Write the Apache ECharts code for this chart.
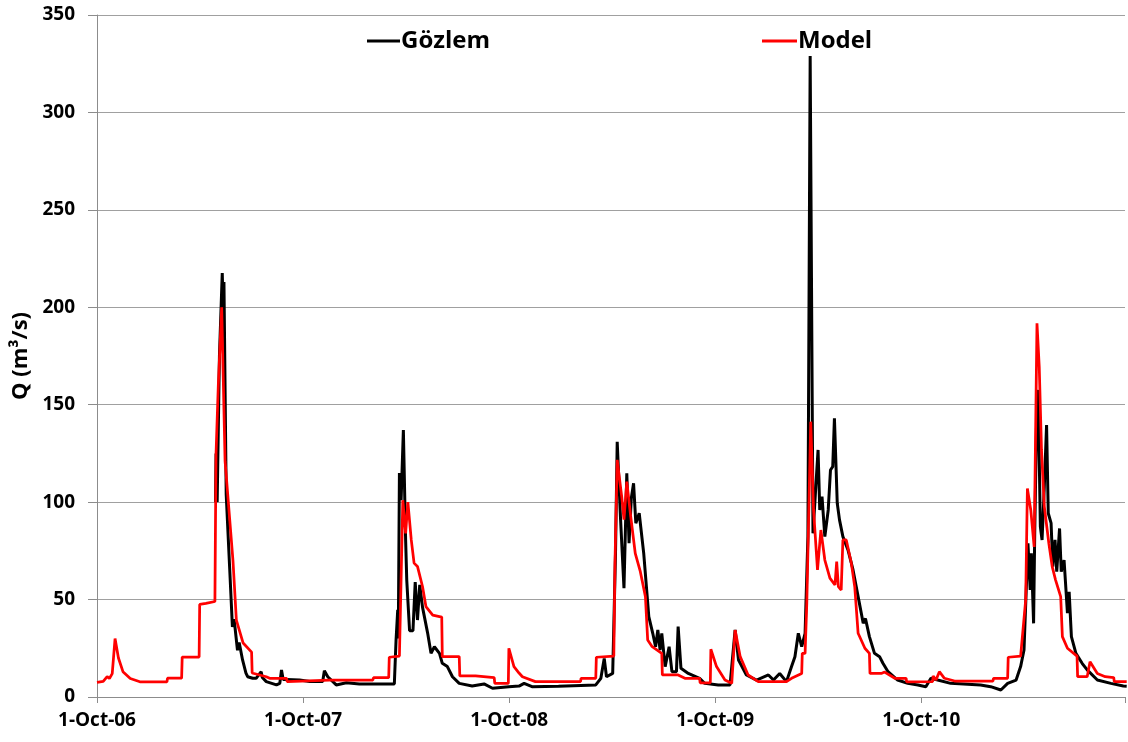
<!DOCTYPE html>
<html>
<head>
<meta charset="utf-8">
<script src="https://cdn.jsdelivr.net/npm/echarts@6/dist/echarts.min.js"></script>
<style>
html,body{margin:0;padding:0;background:#fff;}
#chart{width:1128px;height:742px;}
</style>
</head>
<body>
<div id="chart"></div>
<script>
// X tick labels (one per water year start)
const xTickLabels = ['1-Oct-06', '1-Oct-07', '1-Oct-08', '1-Oct-09', '1-Oct-10'];
const seriesNames = ['Gözlem', 'Model'];

// Observed discharge (Gözlem), m3/s
const obsDates = [
'2007-04-29','2007-04-30','2007-05-02','2007-05-06','2007-05-11','2007-05-13','2007-05-14','2007-05-18','2007-05-24','2007-05-29',
'2007-06-01','2007-06-07','2007-06-10','2007-06-16','2007-06-22','2007-06-25','2007-07-04','2007-07-10','2007-07-19','2007-07-21',
'2007-07-28','2007-08-15','2007-08-21','2007-08-24','2007-08-27','2007-09-02','2007-09-25','2007-10-13','2007-11-05','2007-11-08',
'2007-11-14','2007-11-29','2007-12-17','2008-01-09','2008-02-13','2008-03-11','2008-03-14','2008-03-17','2008-03-18','2008-03-20',
'2008-03-23','2008-03-27','2008-03-31','2008-04-02','2008-04-07','2008-04-13','2008-04-17','2008-04-21','2008-04-25','2008-04-30',
'2008-05-09','2008-05-15','2008-05-21','2008-05-30','2008-06-04','2008-06-13','2008-06-22','2008-07-04','2008-07-27','2008-08-17',
'2008-09-01','2008-09-30','2008-10-18','2008-10-27','2008-11-10','2008-12-27','2009-03-03','2009-03-12','2009-03-18','2009-03-22',
'2009-04-02','2009-04-07','2009-04-10','2009-04-16','2009-04-22','2009-04-27','2009-05-01','2009-05-05','2009-05-09','2009-05-13',
'2009-05-19','2009-05-27','2009-06-05','2009-06-12','2009-06-17','2009-06-21','2009-06-25','2009-06-28','2009-07-04','2009-07-11',
'2009-07-16','2009-07-24','2009-07-27','2009-08-01','2009-08-14','2009-09-03','2009-09-12','2009-10-06','2009-10-27','2009-11-05',
'2009-11-11','2009-11-25','2009-12-13','2010-01-03','2010-01-12','2010-01-23','2010-02-04','2010-02-13','2010-02-19','2010-02-25',
'2010-03-03','2010-03-09','2010-03-14','2010-03-18','2010-03-23','2010-03-28','2010-04-01','2010-04-04','2010-04-08','2010-04-13',
'2010-04-19','2010-04-23','2010-04-27','2010-04-30','2010-05-05','2010-05-09','2010-05-15','2010-05-24','2010-06-02','2010-06-11',
'2010-06-20','2010-06-24','2010-07-01','2010-07-10','2010-07-19','2010-07-25','2010-08-03','2010-08-20','2010-09-07','2010-09-25',
'2010-10-09','2010-10-18','2010-10-30','2010-11-22','2011-01-14','2011-02-01','2011-02-19','2011-03-03','2011-03-18','2011-03-26',
'2011-04-01','2011-04-08','2011-04-12','2011-04-14','2011-04-18','2011-04-20','2011-04-24','2011-04-26','2011-04-30','2011-05-03',
'2011-05-07','2011-05-11','2011-05-14','2011-05-19','2011-05-22','2011-05-26','2011-05-29','2011-06-03','2011-06-06','2011-06-11',
'2011-06-17','2011-06-20','2011-06-24','2011-07-02','2011-07-13','2011-07-22','2011-08-09','2011-09-02','2011-09-24','2011-09-30'
];
const obsValues = [
100,125,100,175,217.6,195,213,104,67,36,
40,24,28,19,12.3,10.4,9.6,9.6,13,10,
7.9,6.2,7,13.9,9,9,8.7,7.9,8,13.5,
10.4,6.2,7.3,6.7,6.7,6.7,29,44.7,30,115,
101,137,80.6,60,34,34,59,39.5,57.5,46,
32.8,22.4,25.8,22.4,17.3,15.6,10.4,7,5.6,6.7,
4.5,5.3,5.6,7,5.3,5.5,6.2,9.6,19.8,10.4,
12.1,73.7,131,90.9,55.8,114.8,78.9,102,109.7,89.2,
94.3,73.7,41.2,32.7,25.8,34.4,24.1,32.7,15.6,25.8,
13,13,36.1,14.7,12.1,9.6,7,6.2,6.2,34.4,
19,11.3,8.7,11.3,8.7,12.1,7.9,15.6,20.7,32.7,
25.8,32.7,82.3,329,84,108,126.8,96,102.8,82.3,
96,116.5,118.2,143,99.4,90.9,82.3,75.5,65.2,51.5,
37.8,40.3,31,22.4,20.7,17.3,13,8.7,7,6.2,
5.3,9.6,8.7,7,6.2,5.3,3.6,7,8.7,15.6,
24.1,78.9,54.9,73.7,37.8,84,154,157.6,87.4,80.6,
108,139.6,94.3,89.2,66.9,80.6,64.3,86.5,64.3,70.3,
43,54,31,22.4,17.3,13.9,8.7,7,5.6,5.5
];

// Modelled discharge (Model), m3/s
const modDates = [
'2006-10-01','2006-10-12','2006-10-19','2006-10-23','2006-10-28','2006-11-02','2006-11-08','2006-11-16','2006-11-29','2006-12-16',
'2007-02-02','2007-02-03','2007-02-28','2007-03-01','2007-03-31','2007-04-01','2007-04-12','2007-04-28','2007-04-29','2007-04-30',
'2007-05-04','2007-05-10','2007-05-16','2007-05-30','2007-06-05','2007-06-17','2007-07-02','2007-07-03','2007-07-28','2007-08-03',
'2007-09-02','2007-09-03','2007-11-17','2008-02-02','2008-02-03','2008-03-01','2008-03-02','2008-03-20','2008-03-26','2008-03-31',
'2008-04-04','2008-04-10','2008-04-15','2008-04-21','2008-04-30','2008-05-06','2008-05-18','2008-06-03','2008-06-04','2008-07-04',
'2008-07-05','2008-08-02','2008-08-03','2008-09-04','2008-09-05','2008-09-29','2008-09-30','2008-10-09','2008-10-18','2008-10-24',
'2008-11-16','2009-02-04','2009-02-05','2009-03-03','2009-03-04','2009-04-04','2009-04-06','2009-04-10','2009-04-18','2009-04-22',
'2009-04-27','2009-05-04','2009-05-12','2009-05-21','2009-05-30','2009-06-03','2009-06-11','2009-06-28','2009-06-29','2009-07-27',
'2009-08-08','2009-09-03','2009-09-04','2009-09-22','2009-09-23','2009-10-03','2009-10-18','2009-10-30','2009-11-05','2009-11-14',
'2009-11-28','2009-12-16','2010-02-04','2010-02-13','2010-03-03','2010-03-04','2010-03-09','2010-03-12','2010-03-19','2010-03-24',
'2010-03-31','2010-04-06','2010-04-13','2010-04-22','2010-05-01','2010-05-04','2010-05-07','2010-05-12','2010-05-15','2010-05-21',
'2010-05-30','2010-06-05','2010-06-11','2010-06-23','2010-07-01','2010-07-02','2010-07-22','2010-07-28','2010-08-15','2010-09-04',
'2010-09-05','2010-10-21','2010-10-22','2010-10-27','2010-11-02','2010-11-11','2010-11-29','2011-02-05','2011-02-06','2011-03-03',
'2011-03-04','2011-03-26','2011-04-04','2011-04-07','2011-04-13','2011-04-19','2011-04-24','2011-04-28','2011-05-02','2011-05-07',
'2011-05-15','2011-05-21','2011-05-27','2011-06-05','2011-06-08','2011-06-17','2011-07-04','2011-07-05','2011-07-22','2011-07-27',
'2011-08-09','2011-08-23','2011-09-07','2011-09-08','2011-09-30'
];
const modValues = [
7.5,8,10.5,9.5,12,30,20,13,9.5,7.8,
7.8,9.7,9.7,20.5,20.5,47.5,48,49,90,125,
160,200,121,70,39.5,27.7,23,12.3,10.4,9.6,
9.6,7.9,8.7,8.7,9.9,9.9,20.4,21,101,84,
100,80.6,68.7,67,56.6,46.4,42,41,20.7,20.7,
10.8,10.8,9.9,9.9,7,7,25,15.6,12.3,10.4,
7.9,7.9,9.6,9.6,20.4,21,68,121.7,102.8,91,
110.5,92.5,73.7,64.3,51.5,29.3,25.8,22.4,11.3,11.3,
9.6,9.6,7.3,7.3,24.5,15.6,8.7,7,34.4,20.7,
11.3,7.9,7.9,9.6,12.1,22.4,22.4,48,141.3,96,
65.2,85.7,70.3,61,57.5,69.5,56.6,54.9,80.6,80.6,
68.6,56.6,32.7,25,22.4,12.1,12.1,12.8,9.6,9.6,
7.8,7.9,10.8,8.7,13,9.6,8.2,8.2,9.6,9.6,
20.4,21,49.8,107,96,77,191.8,169.5,126.8,97.7,
78.9,66.9,60,51.5,31,25,21,10.4,10.4,18.1,
12.1,10.4,10,7.9,7.9
];

const START = Date.UTC(2006, 9, 1);
function dayIndex(s) {
  const p = s.split('-').map(Number);
  return (Date.UTC(p[0], p[1] - 1, p[2]) - START) / 86400000;
}
function pairs(dates, vals) { return dates.map((d, i) => [dayIndex(d), vals[i]]); }

const FONT = 'Open Sans';
const chart = echarts.init(document.getElementById('chart'));
chart.setOption({
  animation: false,
  backgroundColor: '#fff',
  grid: { left: 97, right: 0, top: 15, bottom: 45, containLabel: false },
  legend: [
    { data: [seriesNames[0]], left: 362, top: 24, icon: 'rect', itemWidth: 33, itemHeight: 3, itemGap: 0,
      textStyle: { fontFamily: FONT, fontWeight: 'bold', fontSize: 24, color: '#000', padding: [0,0,0,-4] } },
    { data: [seriesNames[1]], left: 757, top: 24, icon: 'rect', itemWidth: 35, itemHeight: 3, itemGap: 0,
      textStyle: { fontFamily: FONT, fontWeight: 'bold', fontSize: 24, color: '#000', padding: [0,0,0,-4] } }
  ],
  xAxis: {
    type: 'value', min: 0, max: 1822, interval: 365.25,
    axisLine: { show: true, lineStyle: { color: '#8c8c8c', width: 1 } },
    axisTick: { show: true, length: 6, lineStyle: { color: '#8c8c8c' } },
    splitLine: { show: false },
    axisLabel: {
      margin: 14, color: '#000', fontFamily: FONT, fontWeight: 'bold', fontSize: 19,
      formatter: v => xTickLabels[Math.round(v / 365.25)] || ''
    }
  },
  yAxis: {
    type: 'value', min: 0, max: 350, interval: 50,
    name: 'Q (m³/s)', nameLocation: 'middle', nameRotate: 90, nameGap: 57,
    nameTextStyle: { fontFamily: FONT, fontWeight: 'bold', fontSize: 22, color: '#000' },
    axisLine: { show: true, lineStyle: { color: '#8c8c8c', width: 1 } },
    axisTick: { show: true, length: 9, lineStyle: { color: '#8c8c8c' } },
    splitLine: { show: true, lineStyle: { color: '#a0a0a0', width: 1 } },
    axisLabel: { margin: 22, color: '#000', fontFamily: FONT, fontWeight: 'bold', fontSize: 19 }
  },
  series: [
    { name: seriesNames[0], type: 'line', data: pairs(obsDates, obsValues), showSymbol: false, symbol: 'none',
      lineStyle: { color: '#000', width: 3 }, itemStyle: { color: '#000' } },
    { name: seriesNames[1], type: 'line', data: pairs(modDates, modValues), showSymbol: false, symbol: 'none',
      lineStyle: { color: '#ff0000', width: 2.75 }, itemStyle: { color: '#ff0000' } }
  ]
});
</script>
</body>
</html>
